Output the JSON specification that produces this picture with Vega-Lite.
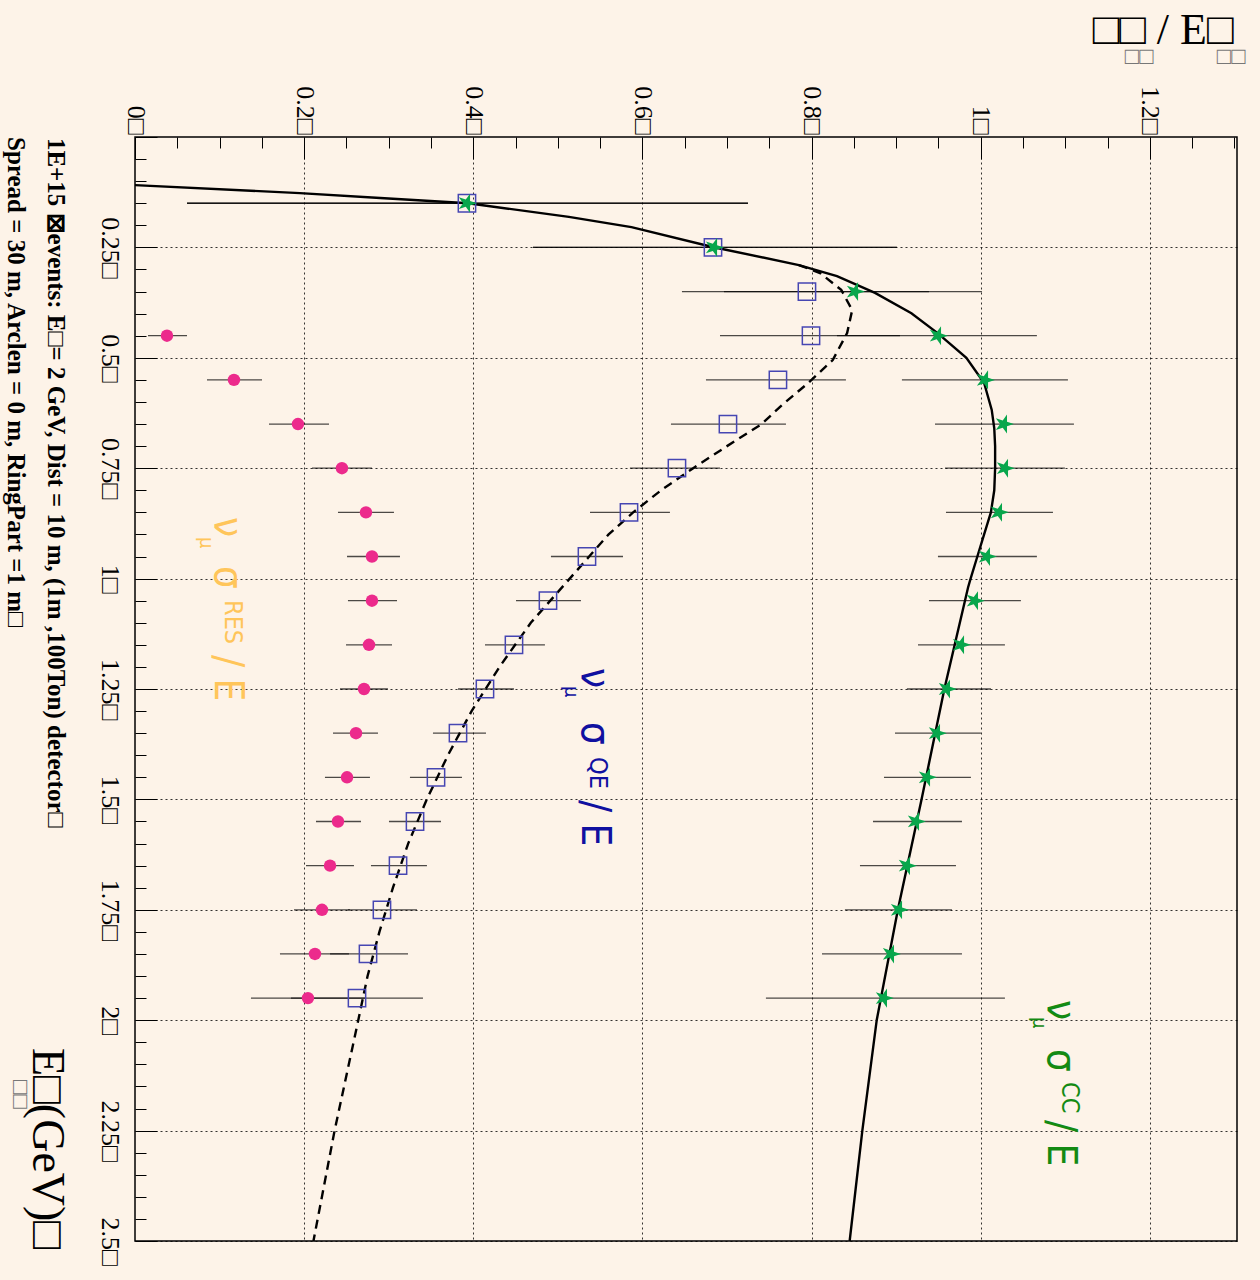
{
  "$schema": "https://vega.github.io/schema/vega-lite/v6.json",
  "width": 1102,
  "height": 1104,
  "padding": {"left": 135, "top": 137, "right": 23, "bottom": 39},
  "autosize": {"type": "none"},
  "background": "#fdf3e8",
  "config": {"view": {"stroke": "#000", "strokeWidth": 1.5}},
  "datasets": {
    "one": [{}],
    "cc": [
      {"E": 0.109, "v": 0}, {"E": 0.127, "v": 0.195}, {"E": 0.138, "v": 0.29}, {"E": 0.15, "v": 0.394},
      {"E": 0.181, "v": 0.513}, {"E": 0.204, "v": 0.587}, {"E": 0.249, "v": 0.683}, {"E": 0.29, "v": 0.785},
      {"E": 0.315, "v": 0.83}, {"E": 0.353, "v": 0.875}, {"E": 0.399, "v": 0.918}, {"E": 0.444, "v": 0.949},
      {"E": 0.5, "v": 0.983}, {"E": 0.557, "v": 1.004}, {"E": 0.618, "v": 1.013}, {"E": 0.66, "v": 1.016},
      {"E": 0.7, "v": 1.017}, {"E": 0.75, "v": 1.017}, {"E": 0.8, "v": 1.016}, {"E": 0.85, "v": 1.012},
      {"E": 0.9, "v": 1.004}, {"E": 0.95, "v": 0.996}, {"E": 1.0, "v": 0.988}, {"E": 1.02, "v": 0.985},
      {"E": 1.25, "v": 0.957}, {"E": 1.5, "v": 0.93}, {"E": 1.75, "v": 0.902}, {"E": 2.0, "v": 0.877},
      {"E": 2.25, "v": 0.86}, {"E": 2.5, "v": 0.845}
    ],
    "qe": [
      {"E": 0.29, "v": 0.785}, {"E": 0.308, "v": 0.81}, {"E": 0.346, "v": 0.835}, {"E": 0.392, "v": 0.848},
      {"E": 0.444, "v": 0.842}, {"E": 0.505, "v": 0.825}, {"E": 0.557, "v": 0.796}, {"E": 0.607, "v": 0.765},
      {"E": 0.65, "v": 0.741}, {"E": 0.7, "v": 0.7}, {"E": 0.75, "v": 0.66}, {"E": 0.8, "v": 0.622},
      {"E": 0.85, "v": 0.589}, {"E": 0.9, "v": 0.56}, {"E": 0.95, "v": 0.537}, {"E": 1.0, "v": 0.514},
      {"E": 1.1, "v": 0.468}, {"E": 1.2, "v": 0.431}, {"E": 1.3, "v": 0.398}, {"E": 1.4, "v": 0.37},
      {"E": 1.5, "v": 0.345}, {"E": 1.6, "v": 0.323}, {"E": 1.7, "v": 0.305}, {"E": 1.8, "v": 0.289},
      {"E": 1.9, "v": 0.275}, {"E": 2.0, "v": 0.264}, {"E": 2.25, "v": 0.236}, {"E": 2.5, "v": 0.211}
    ],
    "pts": [
      {"s": "CC", "E": 0.15, "v": 0.3925, "lo": 0.0615, "hi": 0.7248},
      {"s": "CC", "E": 0.25, "v": 0.6846, "lo": 0.4706, "hi": 0.9009},
      {"s": "CC", "E": 0.35, "v": 0.8513, "lo": 0.6964, "hi": 1.0014},
      {"s": "CC", "E": 0.45, "v": 0.9494, "lo": 0.83, "hi": 1.0664},
      {"s": "CC", "E": 0.55, "v": 1.005, "lo": 0.9068, "hi": 1.1031},
      {"s": "CC", "E": 0.65, "v": 1.0274, "lo": 0.9459, "hi": 1.1102},
      {"s": "CC", "E": 0.75, "v": 1.0286, "lo": 0.9577, "hi": 1.0995},
      {"s": "CC", "E": 0.85, "v": 1.0215, "lo": 0.9589, "hi": 1.0854},
      {"s": "CC", "E": 0.95, "v": 1.0073, "lo": 0.9494, "hi": 1.0664},
      {"s": "CC", "E": 1.05, "v": 0.9931, "lo": 0.9388, "hi": 1.0475},
      {"s": "CC", "E": 1.15, "v": 0.9766, "lo": 0.9258, "hi": 1.0286},
      {"s": "CC", "E": 1.25, "v": 0.96, "lo": 0.9127, "hi": 1.0121},
      {"s": "CC", "E": 1.35, "v": 0.9482, "lo": 0.8986, "hi": 1.0002},
      {"s": "CC", "E": 1.45, "v": 0.9364, "lo": 0.8856, "hi": 0.9884},
      {"s": "CC", "E": 1.55, "v": 0.9234, "lo": 0.8726, "hi": 0.9778},
      {"s": "CC", "E": 1.65, "v": 0.9127, "lo": 0.8572, "hi": 0.9707},
      {"s": "CC", "E": 1.75, "v": 0.9033, "lo": 0.8394, "hi": 0.966},
      {"s": "CC", "E": 1.85, "v": 0.8938, "lo": 0.8123, "hi": 0.9778},
      {"s": "CC", "E": 1.95, "v": 0.8855, "lo": 0.746, "hi": 1.0286},
      {"s": "QE", "E": 0.15, "v": 0.3925, "lo": 0.0615, "hi": 0.7248},
      {"s": "QE", "E": 0.25, "v": 0.6834, "lo": 0.4706, "hi": 0.9009},
      {"s": "QE", "E": 0.35, "v": 0.7945, "lo": 0.6467, "hi": 0.9388},
      {"s": "QE", "E": 0.45, "v": 0.7993, "lo": 0.6917, "hi": 0.9045},
      {"s": "QE", "E": 0.55, "v": 0.7602, "lo": 0.6751, "hi": 0.8406},
      {"s": "QE", "E": 0.65, "v": 0.7011, "lo": 0.6337, "hi": 0.7697},
      {"s": "QE", "E": 0.75, "v": 0.6408, "lo": 0.5852, "hi": 0.6917},
      {"s": "QE", "E": 0.85, "v": 0.5841, "lo": 0.538, "hi": 0.6325},
      {"s": "QE", "E": 0.95, "v": 0.5344, "lo": 0.4918, "hi": 0.577},
      {"s": "QE", "E": 1.05, "v": 0.4883, "lo": 0.4505, "hi": 0.5273},
      {"s": "QE", "E": 1.15, "v": 0.4481, "lo": 0.4138, "hi": 0.4847},
      {"s": "QE", "E": 1.25, "v": 0.4138, "lo": 0.3819, "hi": 0.4481},
      {"s": "QE", "E": 1.35, "v": 0.3819, "lo": 0.3523, "hi": 0.415},
      {"s": "QE", "E": 1.45, "v": 0.3559, "lo": 0.3251, "hi": 0.3866},
      {"s": "QE", "E": 1.55, "v": 0.3311, "lo": 0.3003, "hi": 0.3618},
      {"s": "QE", "E": 1.65, "v": 0.311, "lo": 0.279, "hi": 0.3452},
      {"s": "QE", "E": 1.75, "v": 0.292, "lo": 0.2518, "hi": 0.3334},
      {"s": "QE", "E": 1.85, "v": 0.2755, "lo": 0.2306, "hi": 0.3228},
      {"s": "QE", "E": 1.95, "v": 0.2625, "lo": 0.1844, "hi": 0.3405},
      {"s": "RES", "E": 0.45, "v": 0.0378, "lo": 0.0154, "hi": 0.0615},
      {"s": "RES", "E": 0.55, "v": 0.117, "lo": 0.0851, "hi": 0.1502},
      {"s": "RES", "E": 0.65, "v": 0.1927, "lo": 0.1584, "hi": 0.2294},
      {"s": "RES", "E": 0.75, "v": 0.2447, "lo": 0.2093, "hi": 0.2802},
      {"s": "RES", "E": 0.85, "v": 0.2731, "lo": 0.24, "hi": 0.3062},
      {"s": "RES", "E": 0.95, "v": 0.2802, "lo": 0.2507, "hi": 0.3133},
      {"s": "RES", "E": 1.05, "v": 0.2802, "lo": 0.2518, "hi": 0.3098},
      {"s": "RES", "E": 1.15, "v": 0.2767, "lo": 0.2495, "hi": 0.3039},
      {"s": "RES", "E": 1.25, "v": 0.2708, "lo": 0.2424, "hi": 0.2991},
      {"s": "RES", "E": 1.35, "v": 0.2613, "lo": 0.2341, "hi": 0.2873},
      {"s": "RES", "E": 1.45, "v": 0.2507, "lo": 0.2246, "hi": 0.2778},
      {"s": "RES", "E": 1.55, "v": 0.24, "lo": 0.214, "hi": 0.2672},
      {"s": "RES", "E": 1.65, "v": 0.2306, "lo": 0.2022, "hi": 0.2589},
      {"s": "RES", "E": 1.75, "v": 0.2211, "lo": 0.188, "hi": 0.2542},
      {"s": "RES", "E": 1.85, "v": 0.2128, "lo": 0.1714, "hi": 0.253},
      {"s": "RES", "E": 1.95, "v": 0.2045, "lo": 0.1371, "hi": 0.2719}
    ]
  },
  "layer": [
    {
      "data": {"name": "cc"},
      "mark": {"type": "line", "color": "#000", "strokeWidth": 2.4},
      "encoding": {
        "x": {
          "field": "v", "type": "quantitative",
          "scale": {"domain": [0, 1.303], "nice": false, "zero": false},
          "axis": {
            "orient": "top", "title": null, "domain": false,
            "values": [0,0.05,0.1,0.15,0.2,0.25,0.3,0.35,0.4,0.45,0.5,0.55,0.6,0.65,0.7,0.75,0.8,0.85,0.9,0.95,1,1.05,1.1,1.15,1.2,1.25,1.3],
            "tickCount": 200,
            "labelExpr": "abs(datum.value/0.2 - round(datum.value/0.2)) < 0.000001 ? format(datum.value, '~g') + '\u25a1' : ''",
            "labelAngle": 90, "labelAlign": "right", "labelBaseline": "middle",
            "labelFont": "Liberation Serif", "labelFontSize": 26, "labelColor": "#000",
            "labelPadding": 25, "labelOverlap": false, "labelFlush": false, "labelBound": false,
            "tickColor": "#000", "tickWidth": 1,
            "tickSize": {"condition": {"test": "abs(datum.value/0.2 - round(datum.value/0.2)) < 0.000001", "value": -22}, "value": -11},
            "grid": true, "gridColor": "#000", "gridDash": [2, 3], "gridWidth": 1,
            "gridOpacity": {"condition": {"test": "datum.value > 0 && abs(datum.value/0.2 - round(datum.value/0.2)) < 0.000001", "value": 0.8}, "value": 0}
          }
        },
        "y": {
          "field": "E", "type": "quantitative",
          "scale": {"domain": [0, 2.5], "nice": false, "zero": false, "reverse": true},
          "axis": {
            "orient": "left", "title": null, "domain": false,
            "values": [0,0.05,0.1,0.15,0.2,0.25,0.3,0.35,0.4,0.45,0.5,0.55,0.6,0.65,0.7,0.75,0.8,0.85,0.9,0.95,1,1.05,1.1,1.15,1.2,1.25,1.3,1.35,1.4,1.45,1.5,1.55,1.6,1.65,1.7,1.75,1.8,1.85,1.9,1.95,2,2.05,2.1,2.15,2.2,2.25,2.3,2.35,2.4,2.45,2.5],
            "tickCount": 200,
            "labelExpr": "datum.value > 0 && abs(datum.value/0.25 - round(datum.value/0.25)) < 0.000001 ? format(datum.value, '~g') + '\u25a1' : ''",
            "labelAngle": 90, "labelAlign": "center", "labelBaseline": "top",
            "labelFont": "Liberation Serif", "labelFontSize": 26, "labelColor": "#000",
            "labelPadding": 35, "labelOverlap": false, "labelFlush": false, "labelBound": false,
            "tickColor": "#000", "tickWidth": 1,
            "tickSize": {"condition": {"test": "abs(datum.value/0.25 - round(datum.value/0.25)) < 0.000001", "value": -22}, "value": -11},
            "grid": true, "gridColor": "#000", "gridDash": [2, 3], "gridWidth": 1,
            "gridOpacity": {"condition": {"test": "datum.value > 0 && abs(datum.value/0.25 - round(datum.value/0.25)) < 0.000001", "value": 0.8}, "value": 0}
          }
        },
        "order": {"field": "E", "type": "quantitative"}
      }
    },
    {
      "data": {"name": "qe"},
      "mark": {"type": "line", "color": "#000", "strokeWidth": 2.4, "strokeDash": [9, 6]},
      "encoding": {
        "x": {"field": "v", "type": "quantitative"},
        "y": {"field": "E", "type": "quantitative"},
        "order": {"field": "E", "type": "quantitative"}
      }
    },
    {
      "data": {"name": "pts"},
      "mark": {"type": "rule", "color": "#000", "strokeWidth": 1.3, "opacity": 0.7},
      "encoding": {
        "x": {"field": "lo", "type": "quantitative"},
        "x2": {"field": "hi"},
        "y": {"field": "E", "type": "quantitative"}
      }
    },
    {
      "data": {"name": "pts"},
      "transform": [{"filter": "datum.s == 'QE'"}],
      "mark": {"type": "point", "shape": "square", "filled": false, "stroke": "#4646b2", "strokeWidth": 1.5, "size": 300, "opacity": 1},
      "encoding": {
        "x": {"field": "v", "type": "quantitative"},
        "y": {"field": "E", "type": "quantitative"}
      }
    },
    {
      "data": {"name": "pts"},
      "transform": [{"filter": "datum.s == 'CC'"}],
      "mark": {"type": "point", "shape": "M1,0L0.309,0.2245L0.309,0.951L-0.118,0.363L-0.809,0.588L-0.382,0L-0.809,-0.588L-0.118,-0.363L0.309,-0.951L0.309,-0.2245Z", "filled": true, "color": "#08a64c", "size": 400, "opacity": 1},
      "encoding": {
        "x": {"field": "v", "type": "quantitative"},
        "y": {"field": "E", "type": "quantitative"}
      }
    },
    {
      "data": {"name": "pts"},
      "transform": [{"filter": "datum.s == 'RES'"}],
      "mark": {"type": "point", "shape": "circle", "filled": true, "color": "#ec2a8c", "size": 155, "opacity": 1},
      "encoding": {
        "x": {"field": "v", "type": "quantitative"},
        "y": {"field": "E", "type": "quantitative"}
      }
    },
    {"data": {"name": "one"}, "mark": {"type": "text", "angle": 90, "align": "left", "baseline": "alphabetic", "font": "DejaVu Sans Condensed, DejaVu Sans", "fontSize": 40, "color": "#ffc55a"},
     "encoding": {"x": {"datum": 0.0946}, "y": {"datum": 0.8605}, "text": {"value": "\u03bd"}}},
    {"data": {"name": "one"}, "mark": {"type": "text", "angle": 90, "align": "left", "baseline": "alphabetic", "font": "DejaVu Sans Condensed, DejaVu Sans", "fontSize": 20, "color": "#ffc55a"},
     "encoding": {"x": {"datum": 0.0769}, "y": {"datum": 0.9058}, "text": {"value": "\u03bc"}}},
    {"data": {"name": "one"}, "mark": {"type": "text", "angle": 90, "align": "left", "baseline": "alphabetic", "font": "DejaVu Sans Condensed, DejaVu Sans", "fontSize": 40, "color": "#ffc55a"},
     "encoding": {"x": {"datum": 0.0946}, "y": {"datum": 0.9715}, "text": {"value": "\u03c3"}}},
    {"data": {"name": "one"}, "mark": {"type": "text", "angle": 90, "align": "left", "baseline": "alphabetic", "font": "DejaVu Sans Condensed, DejaVu Sans", "fontSize": 25, "color": "#ffc55a"},
     "encoding": {"x": {"datum": 0.1064}, "y": {"datum": 1.0485}, "text": {"value": "RES"}}},
    {"data": {"name": "one"}, "mark": {"type": "text", "angle": 90, "align": "left", "baseline": "alphabetic", "font": "DejaVu Sans Condensed, DejaVu Sans", "fontSize": 40, "color": "#ffc55a"},
     "encoding": {"x": {"datum": 0.0946}, "y": {"datum": 1.173}, "text": {"value": "/ E"}}},
    {"data": {"name": "one"}, "mark": {"type": "text", "angle": 90, "align": "left", "baseline": "alphabetic", "font": "DejaVu Sans Condensed, DejaVu Sans", "fontSize": 40, "color": "#1010a0"},
     "encoding": {"x": {"datum": 0.5285}, "y": {"datum": 1.2024}, "text": {"value": "\u03bd"}}},
    {"data": {"name": "one"}, "mark": {"type": "text", "angle": 90, "align": "left", "baseline": "alphabetic", "font": "DejaVu Sans Condensed, DejaVu Sans", "fontSize": 20, "color": "#1010a0"},
     "encoding": {"x": {"datum": 0.5084}, "y": {"datum": 1.2432}, "text": {"value": "\u03bc"}}},
    {"data": {"name": "one"}, "mark": {"type": "text", "angle": 90, "align": "left", "baseline": "alphabetic", "font": "DejaVu Sans Condensed, DejaVu Sans", "fontSize": 40, "color": "#1010a0"},
     "encoding": {"x": {"datum": 0.5285}, "y": {"datum": 1.3247}, "text": {"value": "\u03c3"}}},
    {"data": {"name": "one"}, "mark": {"type": "text", "angle": 90, "align": "left", "baseline": "alphabetic", "font": "DejaVu Sans Condensed, DejaVu Sans", "fontSize": 25, "color": "#1010a0"},
     "encoding": {"x": {"datum": 0.538}, "y": {"datum": 1.404}, "text": {"value": "QE"}}},
    {"data": {"name": "one"}, "mark": {"type": "text", "angle": 90, "align": "left", "baseline": "alphabetic", "font": "DejaVu Sans Condensed, DejaVu Sans", "fontSize": 40, "color": "#1010a0"},
     "encoding": {"x": {"datum": 0.5285}, "y": {"datum": 1.5014}, "text": {"value": "/ E"}}},
    {"data": {"name": "one"}, "mark": {"type": "text", "angle": 90, "align": "left", "baseline": "alphabetic", "font": "DejaVu Sans Condensed, DejaVu Sans", "fontSize": 40, "color": "#138a13"},
     "encoding": {"x": {"datum": 1.0795}, "y": {"datum": 1.9543}, "text": {"value": "\u03bd"}}},
    {"data": {"name": "one"}, "mark": {"type": "text", "angle": 90, "align": "left", "baseline": "alphabetic", "font": "DejaVu Sans Condensed, DejaVu Sans", "fontSize": 20, "color": "#138a13"},
     "encoding": {"x": {"datum": 1.0617}, "y": {"datum": 1.9928}, "text": {"value": "\u03bc"}}},
    {"data": {"name": "one"}, "mark": {"type": "text", "angle": 90, "align": "left", "baseline": "alphabetic", "font": "DejaVu Sans Condensed, DejaVu Sans", "fontSize": 40, "color": "#138a13"},
     "encoding": {"x": {"datum": 1.0795}, "y": {"datum": 2.0652}, "text": {"value": "\u03c3"}}},
    {"data": {"name": "one"}, "mark": {"type": "text", "angle": 90, "align": "left", "baseline": "alphabetic", "font": "DejaVu Sans Condensed, DejaVu Sans", "fontSize": 25, "color": "#138a13"},
     "encoding": {"x": {"datum": 1.096}, "y": {"datum": 2.14}, "text": {"value": "CC"}}},
    {"data": {"name": "one"}, "mark": {"type": "text", "angle": 90, "align": "left", "baseline": "alphabetic", "font": "DejaVu Sans Condensed, DejaVu Sans", "fontSize": 40, "color": "#138a13"},
     "encoding": {"x": {"datum": 1.0795}, "y": {"datum": 2.226}, "text": {"value": "/ E"}}},
    {"data": {"name": "one"}, "mark": {"type": "text", "angle": 90, "align": "left", "baseline": "alphabetic", "font": "Liberation Serif", "fontWeight": "bold", "fontSize": 25, "color": "#000"},
     "encoding": {"x": {"datum": -0.1029}, "y": {"datum": 0.002}, "text": {"value": "1E+15 \u22a0events: E\u25a1= 2 GeV, Dist = 10 m, (1m ,100Ton) detector\u25a1"}}},
    {"data": {"name": "one"}, "mark": {"type": "text", "angle": 90, "align": "left", "baseline": "alphabetic", "font": "Liberation Serif", "fontWeight": "bold", "fontSize": 25, "color": "#000"},
     "encoding": {"x": {"datum": -0.1502}, "y": {"datum": 0.0}, "text": {"value": "Spread = 30 m, Arclen = 0 m, RingPart =1 m\u25a1"}}},
    {"data": {"name": "one"}, "mark": {"type": "text", "angle": 0, "align": "left", "baseline": "alphabetic", "font": "Liberation Serif", "fontSize": 44, "color": "#000"},
     "encoding": {"x": {"datum": 1.1324}, "y": {"datum": -0.2105}, "text": {"value": "\u25a1\u25a1 / E\u25a1"}}},
    {"data": {"name": "one"}, "mark": {"type": "text", "angle": 0, "align": "left", "baseline": "alphabetic", "font": "Liberation Serif", "fontSize": 24, "color": "#777"},
     "encoding": {"x": {"datum": 1.1702}, "y": {"datum": -0.165}, "text": {"value": "\u25a1\u25a1"}}},
    {"data": {"name": "one"}, "mark": {"type": "text", "angle": 0, "align": "left", "baseline": "alphabetic", "font": "Liberation Serif", "fontSize": 24, "color": "#777"},
     "encoding": {"x": {"datum": 1.279}, "y": {"datum": -0.165}, "text": {"value": "\u25a1\u25a1"}}},
    {"data": {"name": "one"}, "mark": {"type": "text", "angle": 90, "align": "left", "baseline": "alphabetic", "font": "Liberation Serif", "fontSize": 46, "color": "#000"},
     "encoding": {"x": {"datum": -0.1206}, "y": {"datum": 2.0629}, "text": {"value": "E\u25a1(GeV)\u25a1"}}},
    {"data": {"name": "one"}, "mark": {"type": "text", "angle": 90, "align": "left", "baseline": "alphabetic", "font": "Liberation Serif", "fontSize": 24, "color": "#777"},
     "encoding": {"x": {"datum": -0.1442}, "y": {"datum": 2.1354}, "text": {"value": "\u25a1\u25a1"}}}
  ]
}
